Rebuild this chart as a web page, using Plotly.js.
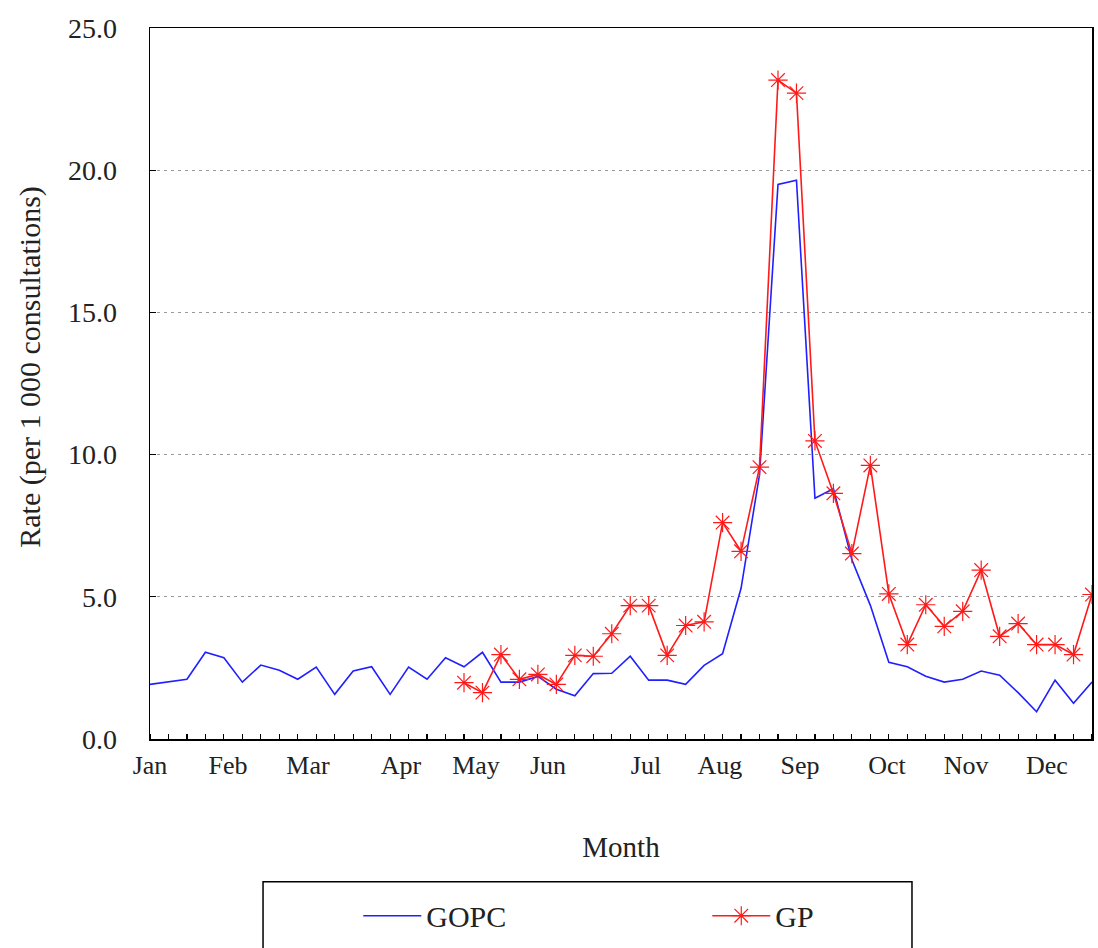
<!DOCTYPE html>
<html>
<head>
<meta charset="utf-8">
<script src="https://cdn.plot.ly/plotly-3.0.1.min.js"></script>
<style>html,body{margin:0;padding:0;background:#fff;}#chart{width:1098px;height:948px;}</style>
</head>
<body>
<div id="chart"></div>
<script>
// Week numbers (1..52)
const weeks = [1,2,3,4,5,6,7,8,9,10,11,12,13,14,15,16,17,18,19,20,21,22,23,24,25,26,
  27,28,29,30,31,32,33,34,35,36,37,38,39,40,41,42,43,44,45,46,47,48,49,50,51,52];
// GOPC rate per 1 000 consultations
const gopc = [1.92,2.0,2.1,3.05,2.86,2.0,2.6,2.42,2.1,2.53,1.57,2.39,2.54,1.57,2.53,2.1,2.86,2.54,3.05,2.0,
  2.0,2.2,1.75,1.52,2.3,2.31,2.91,2.07,2.07,1.92,2.59,3.0,5.3,9.3,19.5,19.65,8.47,8.8,6.3,4.7,
  2.7,2.54,2.21,2.0,2.1,2.39,2.24,1.63,0.96,2.07,1.26,2.0];
// GP weeks and rate
const gpWeeks = [18,19,20,21,22,23,24,25,26,27,28,29,30,31,32,33,34,35,36,37,38,39,40,41,42,43,44,45,46,47,48,49,50,51,52];
const gp = [1.98,1.63,2.97,2.1,2.27,1.92,2.94,2.91,3.7,4.69,4.69,2.94,3.99,4.12,7.61,6.6,9.56,23.17,22.71,10.48,
  8.64,6.52,9.62,5.1,3.32,4.72,3.96,4.49,5.94,3.61,4.06,3.32,3.32,2.97,5.08];
// Month label positions (in week units) and texts
const monthPos = [1,5.22,9.55,14.59,18.65,22.55,27.85,31.85,36.19,40.9,45.18,49.56];
const monthText = ['Jan','Feb','Mar','Apr','May','Jun','Jul','Aug','Sep','Oct','Nov','Dec'];
const yTicks = [0,5,10,15,20,25];

const FONT = 'Liberation Serif, Times New Roman, serif';
const traces = [
  {x: weeks, y: gopc, type: 'scatter', mode: 'lines', name: 'GOPC',
   line: {color: '#2020ff', width: 1.6}},
  {x: gpWeeks, y: gp, type: 'scatter', mode: 'lines+markers', name: 'GP',
   line: {color: '#ff1a1a', width: 1.6},
   marker: {symbol: 'asterisk-open', size: 16, color: '#ff1a1a', line: {color: '#ff1a1a', width: 1.2}}}
];
const layout = {
  width: 1098, height: 948,
  margin: {l: 150, r: 6, t: 28, b: 198},
  paper_bgcolor: '#fff', plot_bgcolor: '#fff',
  showlegend: true,
  font: {family: FONT, color: '#222', size: 26},
  xaxis: {
    range: [1, 52], showline: true, linecolor: '#000', linewidth: 1.5, mirror: true,
    tickmode: 'array', tickvals: monthPos, ticktext: monthText, ticks: '',
    ticklabelstandoff: 2,
    tickfont: {family: FONT, size: 26, color: '#222'},
    showgrid: false, zeroline: false,
    minor: {tickmode: 'linear', tick0: 1, dtick: 1, ticks: 'inside', ticklen: 5, tickwidth: 1.2, tickcolor: '#000', showgrid: false},
    title: {text: 'Month', font: {family: FONT, size: 29, color: '#222'}, standoff: 58},
    automargin: false
  },
  yaxis: {
    range: [0, 25], showline: true, linecolor: '#000', linewidth: 1.5, mirror: true,
    tickmode: 'array', tickvals: yTicks, tickformat: '.1f',
    ticks: 'inside', ticklen: 6, tickwidth: 1.2, tickcolor: '#000',
    ticklabelstandoff: 26,
    tickfont: {family: FONT, size: 28, color: '#222'},
    showgrid: true, gridcolor: '#999', gridwidth: 1, griddash: '3px,4px',
    zeroline: false,
    automargin: false
  },
  annotations: [
    {text: 'Rate (per 1 000 consultations)', xref: 'paper', yref: 'paper', x: -0.1274, y: 0.5235,
     xanchor: 'center', yanchor: 'middle', textangle: -90, showarrow: false,
     font: {family: FONT, size: 30, color: '#222'}}
  ],
  legend: {
    orientation: 'h', x: 0.2211, xanchor: 'left', y: -0.212, yanchor: 'top',
    font: {family: FONT, size: 30, color: '#222'},
    itemwidth: 58, entrywidth: 276, borderwidth: 0, bgcolor: 'rgba(0,0,0,0)'
  },
  shapes: [
    {type: 'rect', xref: 'paper', yref: 'paper', x0: 0.12, x1: 0.8089, y0: -0.2008, y1: -0.3,
     line: {color: '#000', width: 1.5}, fillcolor: 'rgba(0,0,0,0)', layer: 'below'}
  ]
};
Plotly.newPlot('chart', traces, layout, {displayModeBar: false, staticPlot: true});
</script>
</body>
</html>
